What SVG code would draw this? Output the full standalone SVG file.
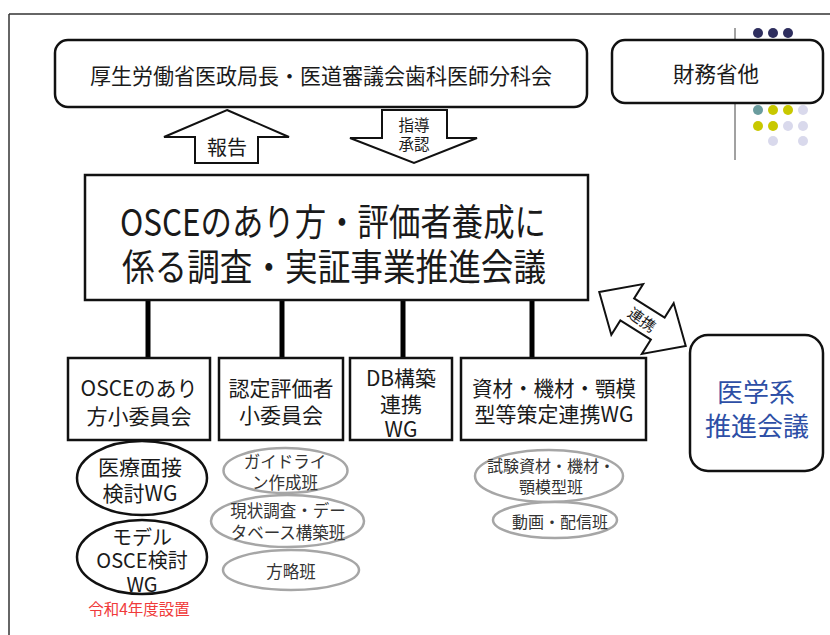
<svg xmlns="http://www.w3.org/2000/svg" width="830" height="635" viewBox="0 0 830 635">
<style>
text{font-family:"Noto Sans CJK JP","Liberation Sans",sans-serif;text-anchor:middle;dominant-baseline:central;fill:#1a1a1a}
.rbox{fill:#fff;stroke:#111;stroke-width:2.5}
.box{fill:#fff;stroke:#111;stroke-width:2.5}
.bell{fill:#fff;stroke:#111;stroke-width:2.5}
.gell{fill:#fff;stroke:#a6a6a6;stroke-width:2.5}
.t21{font-size:21px}
.t20{font-size:20px}
.t17{font-size:16.5px;fill:#333}
.t16{font-size:16px;fill:#333}
.bar{stroke:#000;stroke-width:5}
.arr{fill:#fff;stroke:#111;stroke-width:2;stroke-linejoin:miter}
</style>
<rect width="830" height="635" fill="#fff"/>
<g id="frame">
<line x1="9" y1="14" x2="830" y2="14" stroke="#333" stroke-width="1.5"/>
<line x1="9" y1="14" x2="9" y2="635" stroke="#333" stroke-width="1.5"/>
<line x1="735" y1="28" x2="735" y2="160" stroke="#444" stroke-width="1"/>
<g id="dots">
<circle cx="758" cy="33" r="5" fill="#2e2e5e"/><circle cx="773" cy="33" r="5" fill="#2e2e5e"/><circle cx="788" cy="33" r="5" fill="#2e2e5e"/>
<circle cx="818" cy="63" r="5" fill="#c8c800"/>
<circle cx="758" cy="110" r="5" fill="#6a9c9e"/><circle cx="773" cy="110" r="5" fill="#c8c800"/><circle cx="788" cy="110" r="5" fill="#c8c800"/><circle cx="803" cy="110" r="5" fill="#d9d9ec"/>
<circle cx="758" cy="126" r="5" fill="#c8c800"/><circle cx="773" cy="126" r="5" fill="#c8c800"/><circle cx="788" cy="126" r="5" fill="#d9d9ec"/><circle cx="803" cy="126" r="5" fill="#d9d9ec"/>
<circle cx="773" cy="141" r="5" fill="#d9d9ec"/><circle cx="803" cy="141" r="5" fill="#d9d9ec"/>
</g>
</g>
<g id="connectors">
<line class="bar" x1="148" y1="300" x2="148" y2="358"/>
<line class="bar" x1="282" y1="300" x2="282" y2="358"/>
<line class="bar" x1="403" y1="300" x2="403" y2="358"/>
<line class="bar" x1="532" y1="300" x2="532" y2="358"/>
<g id="report-arrow">
<polygon class="arr" points="227,110 289,137 258,137 258,163 195,163 195,137 164,137"/>
<text x="227" y="146" style="font-size:20px">報告</text>
</g>
<g id="guide-arrow">
<polygon class="arr" points="382,110 447,110 447,138 477,138 414,163 350,138 382,138"/>
<text x="414" y="124" style="font-size:15.5px">指導</text>
<text x="414" y="143" style="font-size:15.5px">承認</text>
</g>
<g id="renkei-arrow" transform="translate(642.5,319) rotate(32)">
<polygon class="arr" points="-51,0 -18,-30 -18,-13 18,-13 18,-30 51,0 18,30 18,13 -18,13 -18,30"/>
<text x="0" y="0" transform="rotate(4)" style="font-size:15px">連携</text>
</g>
</g>
<g id="node-mhlw">
<rect class="rbox" x="55" y="40" width="532" height="67" rx="13"/>
<text x="321" y="74" style="font-size:21.5px" textLength="462" lengthAdjust="spacingAndGlyphs">厚生労働省医政局長・医道審議会歯科医師分科会</text>
</g>
<g id="node-mof">
<rect class="rbox" x="612" y="40" width="211" height="63" rx="13"/>
<text x="716" y="72" style="font-size:21.5px">財務省他</text>
</g>
<g id="node-main">
<rect class="box" x="85" y="175" width="503" height="125"/>
<text x="333" y="220" style="font-size:37px" textLength="426" lengthAdjust="spacingAndGlyphs">OSCEのあり方・評価者養成に</text>
<text x="334" y="265" style="font-size:37px" textLength="424" lengthAdjust="spacingAndGlyphs">係る調査・実証事業推進会議</text>
</g>
<g id="node-osce">
<rect class="box" x="68" y="358" width="142" height="82"/>
<text class="t21" x="139" y="387">OSCEのあり</text>
<text class="t21" x="139" y="415">方小委員会</text>
</g>
<g id="node-eval">
<rect class="box" x="219" y="358" width="124" height="82"/>
<text class="t21" x="281" y="387">認定評価者</text>
<text class="t21" x="281" y="414">小委員会</text>
</g>
<g id="node-db">
<rect class="box" x="350" y="358" width="102" height="82"/>
<text class="t21" x="401" y="377">DB構築</text>
<text class="t21" x="401" y="403">連携</text>
<text class="t21" x="401" y="428">WG</text>
</g>
<g id="node-material">
<rect class="box" x="461" y="358" width="185" height="82"/>
<text class="t21" x="554" y="387" textLength="164" lengthAdjust="spacingAndGlyphs">資材・機材・顎模</text>
<text class="t21" x="554" y="413">型等策定連携WG</text>
</g>
<g id="node-medical">
<rect class="rbox" x="690" y="335" width="133" height="136" rx="18"/>
<text x="756" y="390" style="font-size:26px;fill:#2e4fa6">医学系</text>
<text x="757" y="424" style="font-size:26px;fill:#2e4fa6">推進会議</text>
</g>
<g id="node-interview">
<ellipse class="bell" cx="142" cy="478" rx="65" ry="37"/>
<text class="t21" x="140" y="466">医療面接</text>
<text class="t21" x="140" y="492">検討WG</text>
</g>
<g id="node-model">
<ellipse class="bell" cx="142" cy="557" rx="65" ry="37"/>
<text class="t20" x="142" y="536">モデル</text>
<text class="t20" x="142" y="559">OSCE検討</text>
<text class="t20" x="142" y="583">WG</text>
<text x="139" y="608" style="font-size:15.5px;fill:#f03a3a">令和4年度設置</text>
</g>
<g id="node-guideline">
<ellipse class="gell" cx="285.5" cy="470.5" rx="62" ry="22.5"/>
<text class="t17" x="285" y="461">ガイドライ</text>
<text class="t17" x="285" y="482">ン作成班</text>
</g>
<g id="node-survey">
<ellipse class="gell" cx="287.5" cy="521" rx="76.5" ry="26"/>
<text class="t17" x="288" y="510">現状調査・デー</text>
<text class="t17" x="288" y="532">タベース構築班</text>
</g>
<g id="node-strategy">
<ellipse class="gell" cx="291" cy="570" rx="68" ry="20"/>
<text class="t17" x="291" y="571">方略班</text>
</g>
<g id="node-exam">
<ellipse class="gell" cx="549" cy="476" rx="74" ry="26"/>
<text class="t16" x="551" y="465">試験資材・機材・</text>
<text class="t16" x="551" y="486">顎模型班</text>
</g>
<g id="node-video">
<ellipse class="gell" cx="555" cy="520" rx="62" ry="18"/>
<text class="t16" x="560" y="521">動画・配信班</text>
</g>
</svg>
